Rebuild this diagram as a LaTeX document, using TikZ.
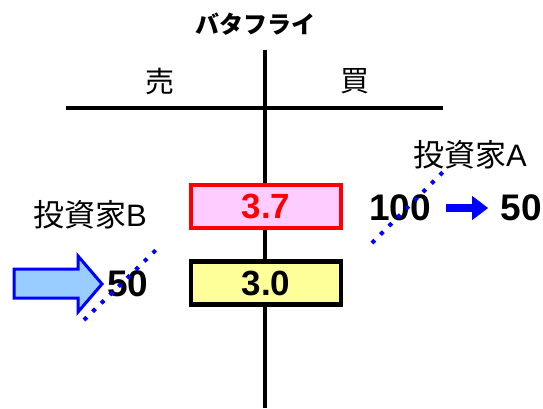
\documentclass[tikz,border=0pt]{standalone}
\usepackage{fontspec}
\setmainfont{Liberation Sans}
\newfontfamily\jpfont{Noto Sans CJK JP}
\usetikzlibrary{arrows.meta}
\definecolor{askpink}{RGB}{255,204,255}
\definecolor{bidyellow}{RGB}{255,255,153}
\definecolor{arrowblue}{RGB}{0,0,255}
\definecolor{arrowfill}{RGB}{153,204,255}
\begin{document}
\begin{tikzpicture}[x=1pt,y=-1pt,
                        axis/.style={line width=4pt},
                        pricebox/.style={shape=rectangle,draw,line width=4.5pt,minimum width=150pt,minimum height=43pt,inner sep=0pt,font=\fontsize{35}{38}\selectfont\bfseries},
                        qty/.style={inner sep=0pt,font=\fontsize{37}{40}\selectfont\bfseries},
                        label/.style={inner sep=0pt,font=\fontsize{31}{34}\selectfont},
                        cut/.style={arrowblue,line width=4pt,dash pattern=on 4pt off 8pt}
                        ]
                        \useasboundingbox (0,0) rectangle (543,408);
                        %Kreuz
                        \node (title) [inner sep=0pt,font=\fontsize{24}{26}\selectfont\jpfont\bfseries] at (255,24) {バタフライ};
                        \draw [axis] (265,50) -- (265,408);
                        \draw [axis] (66,108) -- (443,108);
                        \node (sell) [label,font=\fontsize{29}{32}\selectfont\jpfont] at (160,81) {売};
                        \node (buy) [label,font=\fontsize{29}{32}\selectfont\jpfont] at (355,81) {買};
                        %Preise
                        \node (ask) [pricebox,draw=red,fill=askpink,text=red] at (266,206.5) {3.7};
                        \node (bid) [pricebox,draw=black,fill=bidyellow] at (266,283) {3.0};
                        %Investor A
                        \node (invA) [label] at (470,155) {{\jpfont 投資家}A};
                        \node (qtyA) [qty] at (400,208) {100};
                        \node (newA) [qty] at (521,208) {50};
                        \draw [arrowblue,line width=8pt,-{Triangle[length=16pt,width=23pt]}] ([xshift=15pt]qtyA.east) -- ([xshift=-12pt]newA.west);
                        \draw [cut] (372,243) -- (447,168);
                        %Investor B
                        \node (invB) [label] at (90,215) {{\jpfont 投資家}B};
                        \node (qtyB) [qty] at (128,284) {50};
                        \draw [arrowblue,line width=3pt,fill=arrowfill] (14,269) -- (78,269) -- (78,256) -- (102,284) -- (78,312) -- (78,298) -- (14,298) -- cycle;
                        \draw [cut] (84,320) -- (159,247);
                \end{tikzpicture}
\end{document}
